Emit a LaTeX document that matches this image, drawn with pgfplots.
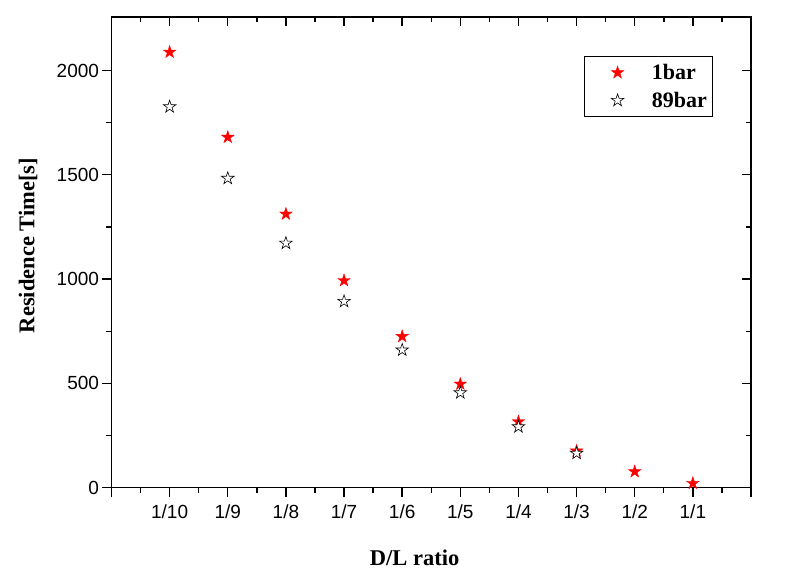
\documentclass[border=0pt]{standalone}
\usepackage{fontspec}
\setmainfont{Liberation Serif}
\newfontfamily\arial{Liberation Sans}
\usepackage{pgfplots}
\pgfplotsset{compat=1.18}
\pgfdeclareplotmark{fstar}{%
  \pgfpathmoveto{\pgfpointpolar{90}{\pgfplotmarksize}}%
  \pgfpathlineto{\pgfpointpolar{126}{0.382\pgfplotmarksize}}%
  \pgfpathlineto{\pgfpointpolar{162}{\pgfplotmarksize}}%
  \pgfpathlineto{\pgfpointpolar{198}{0.382\pgfplotmarksize}}%
  \pgfpathlineto{\pgfpointpolar{234}{\pgfplotmarksize}}%
  \pgfpathlineto{\pgfpointpolar{270}{0.382\pgfplotmarksize}}%
  \pgfpathlineto{\pgfpointpolar{306}{\pgfplotmarksize}}%
  \pgfpathlineto{\pgfpointpolar{342}{0.382\pgfplotmarksize}}%
  \pgfpathlineto{\pgfpointpolar{18}{\pgfplotmarksize}}%
  \pgfpathlineto{\pgfpointpolar{54}{0.382\pgfplotmarksize}}%
  \pgfpathclose
  \pgfusepathqfillstroke
}
\begin{document}
\begin{tikzpicture}
\useasboundingbox (0,0) rectangle (788pt,580pt);
\pgfplotsset{
  common/.style={
    scale only axis,
    width=639.5pt, height=470.4pt,
    at={(111.5pt,92.3pt)}, anchor=south west,
    xmin=0, xmax=11, ymin=0, ymax=2255,
    xtick={0,...,11},
    ytick={0,500,1000,1500,2000},
    minor x tick num=1, minor y tick num=1,
    axis line style={line width=1.6pt},
    major tick length=9pt, minor tick length=5pt,
    every tick/.style={line width=1.4pt, black},
  }
}
\begin{axis}[common,
  tick align=inside,
  xtick pos=right, ytick pos=right,
  xticklabels={}, yticklabels={},
]
\end{axis}
\begin{axis}[common,
  tick align=outside,
  xtick pos=left, ytick pos=left,
  xticklabels={,1/10,1/9,1/8,1/7,1/6,1/5,1/4,1/3,1/2,1/1,},
  /pgf/number format/assume math mode=true,
  /pgf/number format/1000 sep={},
  tick label style={font=\arial\fontsize{19}{22}\selectfont},
  xticklabel style={yshift=-5pt},
  xlabel={D/L ratio},
  ylabel={Residence Time[s]},
  xlabel style={font=\bfseries\fontsize{22.5}{26}\selectfont, at={(axis description cs:0.474,-0.149)}, anchor=center},
  ylabel style={font=\bfseries\fontsize{22.5}{26}\selectfont, at={(axis description cs:-0.1306,0.515)}, anchor=center, rotate=0},
  legend image code/.code={\path (0pt,0pt); \draw[#1] plot coordinates {(29pt,0pt)};},
  legend style={at={(axis description cs:0.941,0.918)}, anchor=north east,
    draw=black, line width=0.8pt, font=\bfseries\fontsize{22}{26}\selectfont,
    inner xsep=4pt, inner ysep=6pt, row sep=7pt,
    /tikz/every odd column/.append style={column sep=26pt},
    cells={anchor=west}},
  legend cell align=left,
]
\addplot[only marks, mark=fstar, mark size=6.6pt, mark options={fill=red, draw=red, line width=0.4pt}]
  coordinates {(1,2088) (2,1680) (3,1312) (4,993) (5,725) (6,497) (7,316) (8,176) (9,77) (10,21)};
\addlegendentry{1bar}
\addplot[only marks, mark=fstar, mark size=6.6pt, mark options={fill=white, draw=black, line width=0.6pt}]
  coordinates {(1,1826) (2,1483) (3,1172) (4,893) (5,660) (6,455) (7,292) (8,165)};
\addlegendentry{89bar}
\end{axis}
\end{tikzpicture}
\end{document}
